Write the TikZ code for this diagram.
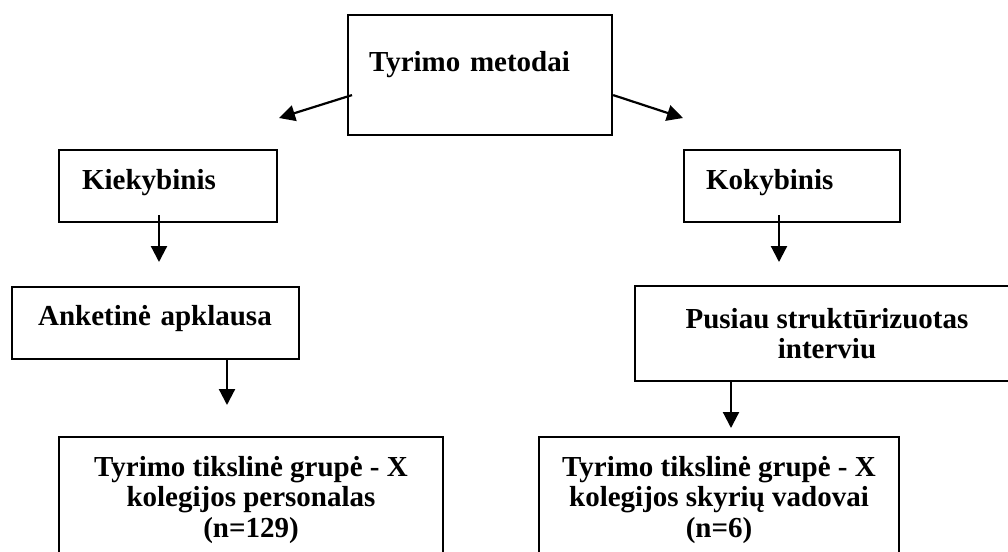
\documentclass[tikz,border=0pt]{standalone}
\usepackage{fontspec}
\setmainfont{Liberation Serif}
\usetikzlibrary{positioning}
\usetikzlibrary{shapes,calc,arrows.meta}

\begin{document}
\begin{tikzpicture}[x=1pt,y=-1pt,>={Triangle[width=16pt,length=16pt]},line width=2.2pt,
  box/.style={draw,rectangle,inner sep=0pt,align=left,font=\bfseries\fontsize{29}{30}\selectfont},
  cbox/.style={box,align=center}]
  \clip (0,0) rectangle (1008,551);
  \node (metodai) [box,anchor=north west,inner xsep=21pt,text width=222pt,text height=56pt,text depth=64pt] at (347,14) {Tyrimo metodai};
  \node (kiek) [box,anchor=north west,inner xsep=23pt,text width=172pt,text height=39pt,text depth=33pt] at (58,149) {Kiekybinis};
  \node (kok) [box,anchor=north west,inner xsep=22pt,text width=172pt,text height=39pt,text depth=33pt] at (683,149) {Kokybinis};
  \node (anketa) [box,anchor=north west,inner xsep=26pt,text width=235pt,text height=38pt,text depth=34pt] at (11,286) {Anketinė apklausa};
  \node (interviu) [cbox,minimum width=384pt,minimum height=95pt] at (827,333.5) {Pusiau struktūrizuotas\\interviu};
  \node (personalas) [cbox,minimum width=384pt,minimum height=126pt,font=\bfseries\fontsize{29}{30.5}\selectfont] at (251,500) {Tyrimo tikslinė grupė - X\\kolegijos personalas\\(n=129)};
  \node (vadovai) [cbox,minimum width=360pt,minimum height=126pt,font=\bfseries\fontsize{29}{30.5}\selectfont] at (719,500) {Tyrimo tikslinė grupė - X\\kolegijos skyrių vadovai\\(n=6)};
  % arrow ends
  \coordinate (kiekTip) at (279,118);
  \coordinate (kokTip) at (683,118);
  \coordinate (anketaTip) at (159,262);
  \coordinate (interviuTip) at (779,262);
  \coordinate (personalasTip) at (227,405);
  \coordinate (vadovaiTip) at (731,428);
  \draw[->] ([xshift=5pt,yshift=-20pt]metodai.west) -- (kiekTip);
  \draw[->] ([yshift=-20pt]metodai.east) -- (kokTip);
  \draw[->] ([yshift=8pt]kiek.south -| anketaTip) -- (anketaTip);
  \draw[->] ([yshift=8pt]kok.south -| interviuTip) -- (interviuTip);
  \draw[->] (anketa.south -| personalasTip) -- (personalasTip);
  \draw[->] (interviu.south -| vadovaiTip) -- (vadovaiTip);
\end{tikzpicture}
\end{document}
